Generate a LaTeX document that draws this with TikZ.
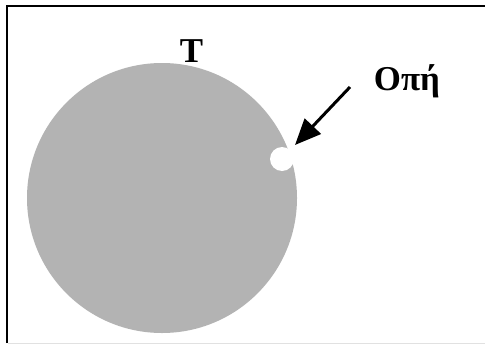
\documentclass[tikz,border=0pt]{standalone}
\usepackage{fontspec}
\setmainfont{Liberation Serif}
\usetikzlibrary{arrows.meta}
\definecolor{diskgray}{RGB}{179,179,179}
\definecolor{framegray}{RGB}{225,225,225}
\tikzset{
  lbl/.style={font=\bfseries\fontsize{35}{40}\selectfont, inner sep=0pt, anchor=base},
  pointer/.style={line width=3bp, -{Triangle[length=26bp,width=22bp]}}
}
\begin{document}
\begin{tikzpicture}[x=1bp,y=1bp]
\useasboundingbox (0,0) rectangle (485,345);
\fill[white] (0,0) rectangle (485,345);
% frame
\draw[line width=2bp] (7,2) -- (7,339) -- (485,339);
\draw[framegray, line width=1bp] (8,2) -- (485,2);
% disk
\fill[diskgray] (162,147) circle[radius=135];
\fill[white] (282,186) circle[radius=12];
% labels
\node[lbl] (T) at (191.5,283) {T};
\node[lbl] (hole) at (407,255) {Οπή};
\coordinate (tail) at (350,258);
\coordinate (tip) at (295,200);
\draw[pointer] (tail) -- (tip);
\end{tikzpicture}
\end{document}
